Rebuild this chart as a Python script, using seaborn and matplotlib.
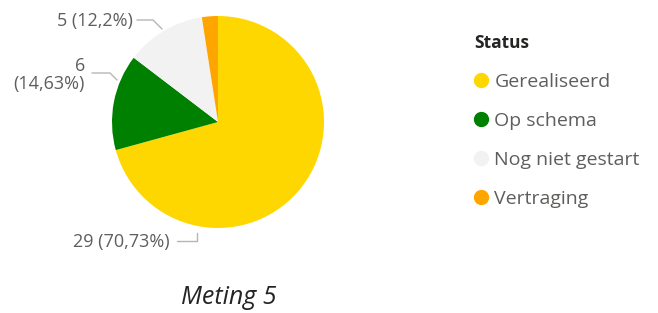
import matplotlib
matplotlib.use("Agg")
import matplotlib.pyplot as plt
from matplotlib.lines import Line2D
import seaborn as sns

# data
statuses = ["Gerealiseerd", "Op schema", "Nog niet gestart", "Vertraging"]
counts = [29, 6, 5, 1]
colors = ["#FFD700", "#008000", "#F2F2F2", "#FFA500"]
title = "Meting 5"

sns.set_theme(style="white")
plt.rcParams["font.family"] = ["Open Sans", "DejaVu Sans"]

W, H = 658, 313
fig = plt.figure(figsize=(W / 100, H / 100), dpi=100)
ax = fig.add_axes([0, 0, 1, 1])

# pie centre and radius in pixels -> data units with radius 1
cx, cy, r = 218, 122, 106

wedges, _ = ax.pie(counts, colors=colors, startangle=90, counterclock=False,
                   wedgeprops=dict(linewidth=0))
ax.set_xlim((0 - cx) / r, (W - cx) / r)
ax.set_ylim((cy - H) / r, cy / r)
ax.set_aspect("equal", adjustable="datalim")
ax.axis("off")


def px(x, y):
    return (x - cx) / r, (cy - y) / r


total = sum(counts)


def fmt(n):
    pct = n / total * 100
    s = f"{pct:.2f}".rstrip("0").rstrip(".")
    return s.replace(".", ",")


lbl_color = "#605E5C"
line_color = "#B8B6B4"

# label placements (pixel anchors) and leader lines
labels = [
    (0, f"{counts[0]} ({fmt(counts[0])}%)", (170, 242), [(177, 241), (197, 241), (197, 233)]),
    (1, f"{counts[1]}\n({fmt(counts[1])}%)", (85, 75), [(92, 73), (110, 73), (117, 80)]),
    (2, f"{counts[2]} ({fmt(counts[2])}%)", (133, 21), [(137, 20), (153, 20), (162, 29)]),
]
for i, text, (tx, ty), pts in labels:
    x, y = px(tx, ty)
    ax.text(x, y, text, ha="right", va="center", fontsize=13, color=lbl_color,
            linespacing=1.05, multialignment="right")
    xs, ys = zip(*[px(a, b) for a, b in pts])
    ax.plot(xs, ys, color=line_color, lw=1.0)

x, y = px(229, 297)
ax.text(x, y, title, ha="center", va="center", fontsize=18, style="italic",
        color="#252423")

handles = [Line2D([], [], marker="o", linestyle="", markersize=10,
                  markerfacecolor=c, markeredgecolor=c) for c in colors]
leg = ax.legend(handles, statuses, title="Status", loc="upper left",
                bbox_to_anchor=(474 / W, 1 - 34 / H), frameon=False,
                fontsize=14, labelcolor=lbl_color, handlelength=0.7,
                handletextpad=0.35, labelspacing=1.08, borderpad=0,
                borderaxespad=0, alignment="left",
                title_fontproperties=dict(weight="bold", size=12.5))
leg._legend_box._children[0].sep = 2  # tighter gap under the title
leg.get_title().set_color("#252423")

fig.savefig("out.png", dpi=100)
